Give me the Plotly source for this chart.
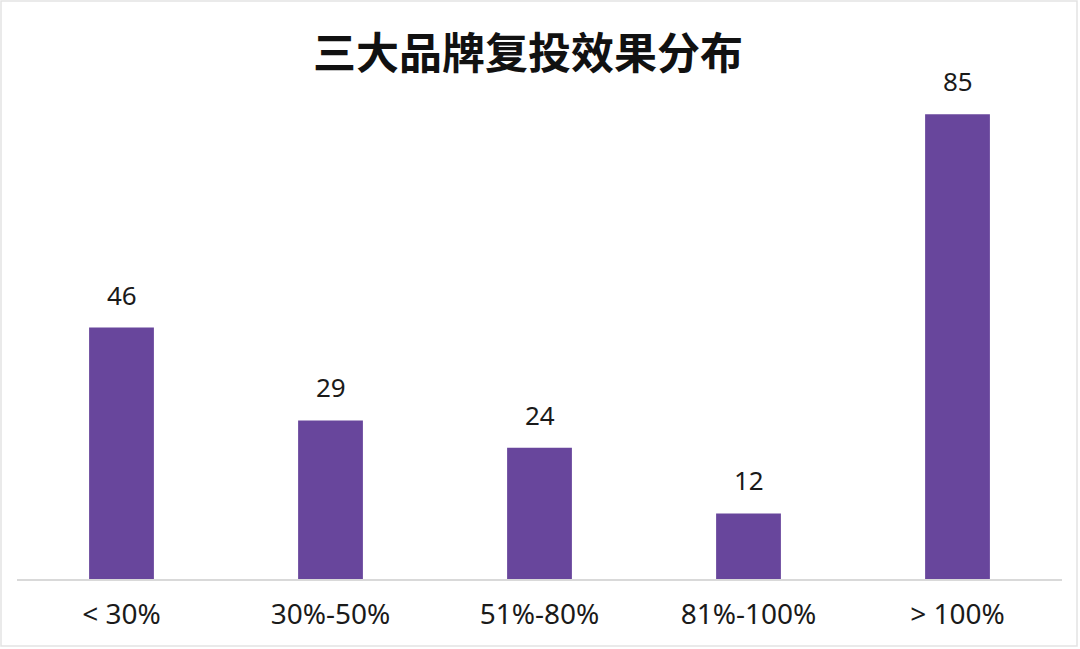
import plotly.graph_objects as go

# data
categories = ['< 30%', '30%-50%', '51%-80%', '81%-100%', '> 100%']
counts = [46, 29, 24, 12, 85]

BAR_COLOR = '#68469c'
W, H = 1080, 649
ML, MR, MT, MB = 17, 18, 87, 70
PW, PH = W - ML - MR, H - MT - MB


def px_x(px):
    return (px - ML) / PW


def px_y(py):
    return (H - MB - py) / PH


fig = go.Figure()

fig.add_trace(go.Bar(
    x=categories,
    y=counts,
    width=0.31,
    marker=dict(color=BAR_COLOR, line=dict(width=0)),
    hoverinfo='x+y',
))

# value labels above bars
for cat, val in zip(categories, counts):
    fig.add_annotation(
        x=cat, y=val, text=str(val),
        showarrow=False, yanchor='bottom', yshift=13,
        font=dict(family='Noto Sans', size=26, color='#1a1a1a'),
    )

fig.update_layout(
    width=W, height=H,
    margin=dict(l=ML, r=MR, t=MT, b=MB),
    plot_bgcolor='white',
    paper_bgcolor='white',
    showlegend=False,
    title=dict(
        text='<b>三大品牌复投效果分布</b>',
        x=0.489, xanchor='center',
        y=1 - 54 / H, yanchor='middle',
        font=dict(family='Noto Sans CJK SC', size=43, color='#111111'),
    ),
    xaxis=dict(
        showgrid=False, showline=True, linecolor='#d9d9d9', linewidth=1.5,
        ticks='', tickfont=dict(family='Noto Sans', size=28, color='#1a1a1a'),
        ticklabelstandoff=10,
    ),
    yaxis=dict(
        range=[0, 90], showgrid=False, zeroline=False,
        showticklabels=False, showline=False,
    ),
    shapes=[dict(
        type='rect', xref='paper', yref='paper',
        x0=px_x(1), x1=px_x(1077), y0=px_y(646), y1=px_y(1),
        line=dict(color='#e3e3e3', width=1.5), fillcolor='rgba(0,0,0,0)',
        layer='below',
    )],
)

fig.write_html('out.html', config={'displayModeBar': False},
               post_script="document.body.style.margin='0';")
